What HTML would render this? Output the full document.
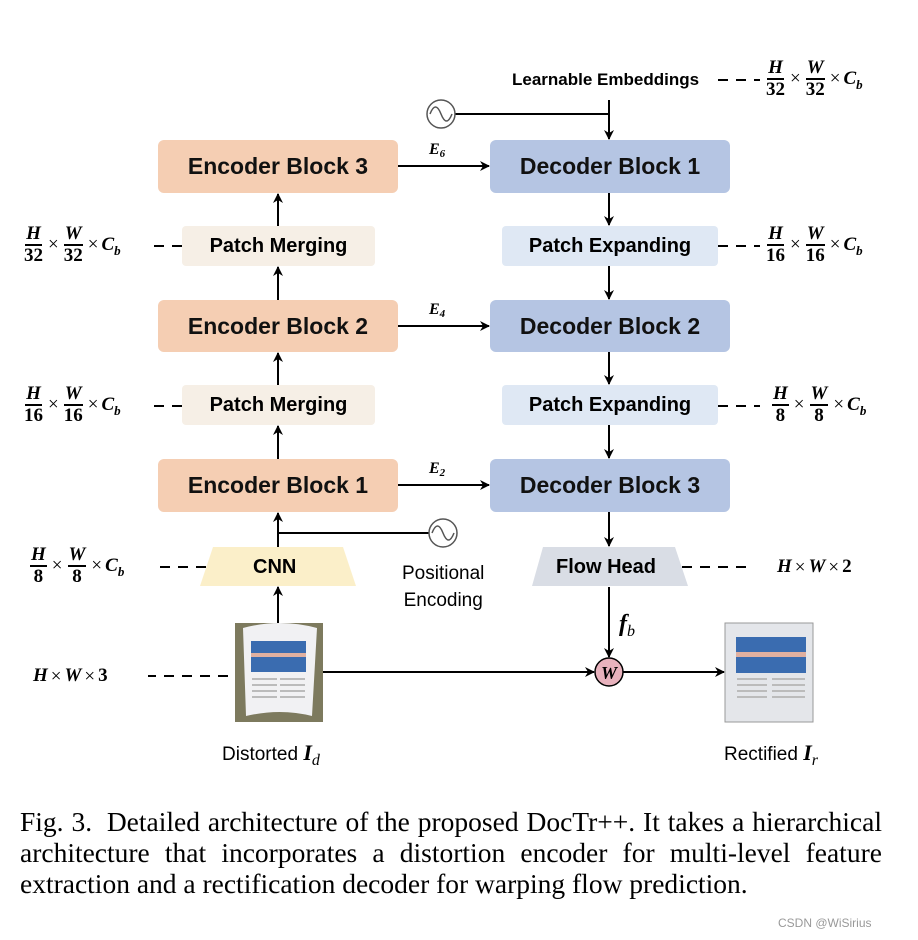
<!DOCTYPE html>
<html><head><meta charset="utf-8"><style>
body{margin:0;background:#fff;width:918px;height:940px;position:relative;overflow:hidden;font-family:"Liberation Sans",sans-serif}
.b{position:absolute;display:flex;align-items:center;justify-content:center;font-weight:bold;border-radius:6px}
.enc{background:#f5ceb3;font-size:23px;color:#111}
.dec{background:#b5c5e3;font-size:23px;color:#111}
.pm{background:#f6efe6;font-size:20px;border-radius:4px}
.pe{background:#dfe8f4;font-size:20px;border-radius:4px}
.m{position:absolute;font-family:"Liberation Serif",serif;font-weight:bold;font-style:italic;font-size:19px;white-space:nowrap;line-height:20px}
.fr{display:inline-flex;flex-direction:column;align-items:center;line-height:20px;margin:0 2px;vertical-align:middle}
.fr span:first-child{border-bottom:2px solid #000;padding:0 1px}
.fr span{font-style:normal}
.fr span.i{font-style:italic}
.x{font-style:normal;font-weight:normal;margin:0 3px;vertical-align:middle}
.s{font-size:13px;position:relative;top:5px;font-style:italic}
.t{position:absolute;font-size:19px;white-space:nowrap}
.cap{position:absolute;left:20px;width:862px;font-family:"Liberation Serif",serif;font-size:27.5px;line-height:31px;top:806px}
.cap div.j{white-space:nowrap;display:flex;justify-content:space-between}
.cap div.l{text-align:left;white-space:nowrap}
</style></head><body>
<svg width="918" height="940" style="position:absolute;left:0;top:0">
<defs><marker id="a" markerWidth="10" markerHeight="10" refX="9" refY="5" orient="auto" markerUnits="userSpaceOnUse"><path d="M0,0 L10,5 L0,10 L3,5 Z" fill="#000"/></marker></defs>
<g stroke="#000" stroke-width="2" fill="none">
<line x1="278" y1="226" x2="278" y2="194" marker-end="url(#a)"/>
<line x1="278" y1="300" x2="278" y2="267" marker-end="url(#a)"/>
<line x1="278" y1="385" x2="278" y2="353" marker-end="url(#a)"/>
<line x1="278" y1="459" x2="278" y2="426" marker-end="url(#a)"/>
<line x1="278" y1="547" x2="278" y2="513" marker-end="url(#a)"/>
<line x1="278" y1="623" x2="278" y2="587" marker-end="url(#a)"/>
<line x1="278" y1="533" x2="429" y2="533"/>
<line x1="398" y1="166" x2="489" y2="166" marker-end="url(#a)"/>
<line x1="398" y1="326" x2="489" y2="326" marker-end="url(#a)"/>
<line x1="398" y1="485" x2="489" y2="485" marker-end="url(#a)"/>
<line x1="455" y1="114" x2="609" y2="114"/>
<line x1="609" y1="100" x2="609" y2="139" marker-end="url(#a)"/>
<line x1="609" y1="193" x2="609" y2="225" marker-end="url(#a)"/>
<line x1="609" y1="266" x2="609" y2="299" marker-end="url(#a)"/>
<line x1="609" y1="352" x2="609" y2="384" marker-end="url(#a)"/>
<line x1="609" y1="425" x2="609" y2="458" marker-end="url(#a)"/>
<line x1="609" y1="512" x2="609" y2="546" marker-end="url(#a)"/>
<line x1="609" y1="587" x2="609" y2="657" marker-end="url(#a)"/>
<line x1="323" y1="672" x2="594" y2="672" marker-end="url(#a)"/>
<line x1="623" y1="672" x2="724" y2="672" marker-end="url(#a)"/>
<g stroke-dasharray="10,8">
<line x1="718" y1="80" x2="760" y2="80"/>
<line x1="182" y1="246" x2="148" y2="246"/>
<line x1="182" y1="406" x2="148" y2="406"/>
<line x1="718" y1="246" x2="760" y2="246"/>
<line x1="718" y1="406" x2="760" y2="406"/>
<line x1="206" y1="567" x2="152" y2="567"/>
<line x1="682" y1="567" x2="750" y2="567"/>
<line x1="228" y1="676" x2="148" y2="676"/>
</g>
</g>
<circle cx="441" cy="114" r="14" fill="#fff" stroke="#555" stroke-width="1.5"/>
<path d="M430,114 q5.5,-14 11,0 t11,0" fill="none" stroke="#555" stroke-width="1.5"/>
<circle cx="443" cy="533" r="14" fill="#fff" stroke="#555" stroke-width="1.5"/>
<path d="M432,533 q5.5,-14 11,0 t11,0" fill="none" stroke="#555" stroke-width="1.5"/>
<polygon points="213,547 343,547 356,586 200,586" fill="#fbefc9"/>
<polygon points="543,547 675,547 688,586 532,586" fill="#d9dde5"/>
<circle cx="609" cy="672" r="14" fill="#e8b2bd" stroke="#000" stroke-width="1.5"/>
<text x="609" y="679" text-anchor="middle" font-family="Liberation Serif" font-style="italic" font-weight="bold" font-size="18">W</text>
<rect x="235" y="623" width="88" height="99" fill="#7d7a5e"/>
<path d="M243,628 Q280,618 317,628 L312,716 Q280,708 246,716 Z" fill="#f1f1f3"/>
<rect x="251" y="641" width="55" height="31" fill="#3a6cb0"/>
<rect x="251" y="653" width="55" height="4" fill="#e0b0a0"/>
<g fill="#bbb"><rect x="252" y="678" width="25" height="2"/><rect x="280" y="678" width="25" height="2"/><rect x="252" y="684" width="25" height="2"/><rect x="280" y="684" width="25" height="2"/><rect x="252" y="690" width="25" height="2"/><rect x="280" y="690" width="25" height="2"/><rect x="252" y="696" width="25" height="2"/><rect x="280" y="696" width="25" height="2"/></g>
<rect x="725" y="623" width="88" height="99" fill="#e4e6ea" stroke="#999"/>
<rect x="736" y="637" width="70" height="36" fill="#3a6cb0"/>
<rect x="736" y="652" width="70" height="5" fill="#e0b0a0"/>
<g fill="#bbb"><rect x="737" y="678" width="30" height="2"/><rect x="772" y="678" width="33" height="2"/><rect x="737" y="684" width="30" height="2"/><rect x="772" y="684" width="33" height="2"/><rect x="737" y="690" width="30" height="2"/><rect x="772" y="690" width="33" height="2"/><rect x="737" y="696" width="30" height="2"/><rect x="772" y="696" width="33" height="2"/></g>
</svg>
<div class="b enc" style="left:158px;top:140px;width:240px;height:53px">Encoder Block 3</div>
<div class="b enc" style="left:158px;top:300px;width:240px;height:52px">Encoder Block 2</div>
<div class="b enc" style="left:158px;top:459px;width:240px;height:53px">Encoder Block 1</div>
<div class="b dec" style="left:490px;top:140px;width:240px;height:53px">Decoder Block 1</div>
<div class="b dec" style="left:490px;top:300px;width:240px;height:52px">Decoder Block 2</div>
<div class="b dec" style="left:490px;top:459px;width:240px;height:53px">Decoder Block 3</div>
<div class="b pm" style="left:182px;top:226px;width:193px;height:40px">Patch Merging</div>
<div class="b pm" style="left:182px;top:385px;width:193px;height:40px">Patch Merging</div>
<div class="b pe" style="left:502px;top:226px;width:216px;height:40px">Patch Expanding</div>
<div class="b pe" style="left:502px;top:385px;width:216px;height:40px">Patch Expanding</div>
<div class="t" style="left:253px;top:556px;font-weight:bold;font-size:20px">CNN</div>
<div class="t" style="left:556px;top:556px;font-weight:bold;font-size:20px">Flow Head</div>
<div class="t" style="left:512px;top:70px;font-weight:bold;font-size:17px">Learnable Embeddings</div>
<div class="t" style="left:402px;top:560px;text-align:center;line-height:27px">Positional<br>Encoding</div>
<div class="t" style="left:222px;top:740px">Distorted <b style="font-family:'Liberation Serif';font-style:italic;font-size:22px">I</b><i style="font-family:'Liberation Serif';font-size:16px;position:relative;top:5px">d</i></div>
<div class="t" style="left:724px;top:740px">Rectified <b style="font-family:'Liberation Serif';font-style:italic;font-size:22px">I</b><i style="font-family:'Liberation Serif';font-size:16px;position:relative;top:5px">r</i></div>
<div class="m" style="left:619px;top:614px;font-size:24px">f<span class="s" style="font-size:16px;font-weight:normal">b</span></div>
<div class="m" style="left:429px;top:140px;font-size:16px">E<span class="s" style="font-size:11px;top:3px">6</span></div>
<div class="m" style="left:429px;top:300px;font-size:16px">E<span class="s" style="font-size:11px;top:3px">4</span></div>
<div class="m" style="left:429px;top:459px;font-size:16px">E<span class="s" style="font-size:11px;top:3px">2</span></div>
<div class="m" style="left:764px;top:58px"><span class="fr"><span class="i">H</span><span>32</span></span><span class="x">×</span><span class="fr"><span class="i">W</span><span>32</span></span><span class="x">×</span><span style="vertical-align:middle">C<span class="s">b</span></span></div>
<div class="m" style="left:22px;top:224px"><span class="fr"><span class="i">H</span><span>32</span></span><span class="x">×</span><span class="fr"><span class="i">W</span><span>32</span></span><span class="x">×</span><span style="vertical-align:middle">C<span class="s">b</span></span></div>
<div class="m" style="left:764px;top:224px"><span class="fr"><span class="i">H</span><span>16</span></span><span class="x">×</span><span class="fr"><span class="i">W</span><span>16</span></span><span class="x">×</span><span style="vertical-align:middle">C<span class="s">b</span></span></div>
<div class="m" style="left:22px;top:384px"><span class="fr"><span class="i">H</span><span>16</span></span><span class="x">×</span><span class="fr"><span class="i">W</span><span>16</span></span><span class="x">×</span><span style="vertical-align:middle">C<span class="s">b</span></span></div>
<div class="m" style="left:770px;top:384px"><span class="fr"><span class="i">H</span><span>8</span></span><span class="x">×</span><span class="fr"><span class="i">W</span><span>8</span></span><span class="x">×</span><span style="vertical-align:middle">C<span class="s">b</span></span></div>
<div class="m" style="left:28px;top:545px"><span class="fr"><span class="i">H</span><span>8</span></span><span class="x">×</span><span class="fr"><span class="i">W</span><span>8</span></span><span class="x">×</span><span style="vertical-align:middle">C<span class="s">b</span></span></div>
<div class="m" style="left:777px;top:557px">H<span class="x">×</span>W<span class="x">×</span><span style="font-style:normal">2</span></div>
<div class="m" style="left:33px;top:666px">H<span class="x">×</span>W<span class="x">×</span><span style="font-style:normal">3</span></div>
<div class="cap">
<div class="j"><span>Fig.</span><span>3.&nbsp;</span><span>Detailed</span><span>architecture</span><span>of</span><span>the</span><span>proposed</span><span>DocTr++.</span><span>It</span><span>takes</span><span>a</span><span>hierarchical</span></div>
<div class="j"><span>architecture</span><span>that</span><span>incorporates</span><span>a</span><span>distortion</span><span>encoder</span><span>for</span><span>multi-level</span><span>feature</span></div>
<div class="l">extraction and a rectification decoder for warping flow prediction.</div>
</div>
<div class="t" style="left:778px;top:916px;font-size:12px;color:#999">CSDN @WiSirius</div>
</body></html>
